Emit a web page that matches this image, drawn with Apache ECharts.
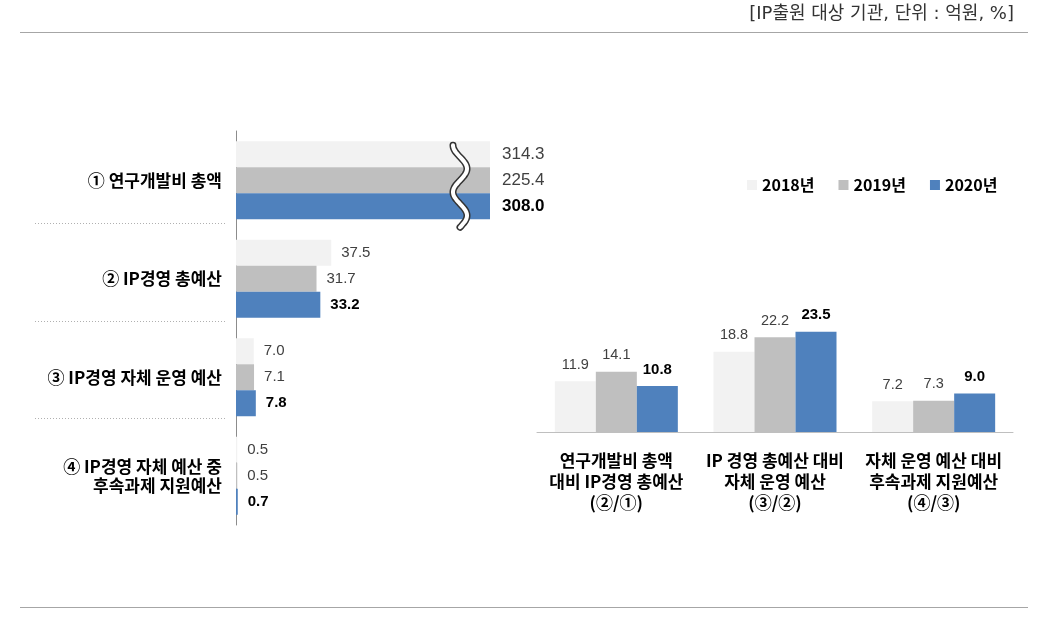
<!DOCTYPE html>
<html>
<head>
<meta charset="utf-8">
<script src="https://cdn.jsdelivr.net/npm/echarts@6/dist/echarts.min.js"></script>
<style>
html,body{margin:0;padding:0;background:#fff;}
#c{width:1045px;height:628px;}
</style>
</head>
<body>
<div id="c"></div>
<script>
// ---- data ----
const seriesNames = ['2018년', '2019년', '2020년'];
const leftCategories = ['① 연구개발비 총액', '② IP경영 총예산', '③ IP경영 자체 운영 예산', '④ IP경영 자체 예산 중\n후속과제 지원예산'];
const left2018 = [314.3, 37.5, 7.0, 0.5];
const left2019 = [225.4, 31.7, 7.1, 0.5];
const left2020 = [308.0, 33.2, 7.8, 0.7];
const rightCategories = ['연구개발비 총액\n대비 IP경영 총예산\n(②/①)', 'IP 경영 총예산 대비\n자체 운영 예산\n(③/②)', '자체 운영 예산 대비\n후속과제 지원예산\n(④/③)'];
const right2018 = [11.9, 18.8, 7.2];
const right2019 = [14.1, 22.2, 7.3];
const right2020 = [10.8, 23.5, 9.0];
const headerText = '[IP출원 대상 기관, 단위 : 억원, %]';

const colors = ['#f2f2f2', '#bfbfbf', '#4f81bd'];
const FONT = '"Noto Sans CJK KR", "Noto Sans", sans-serif';
const NUMFONT = '"Liberation Sans", Arial, sans-serif';
const HEADFONT = '"DejaVu Sans", "Noto Sans CJK KR", sans-serif';
const LEFT_MAX = 100; // broken axis: bars beyond this are cut

const leftData = [left2018, left2019, left2020];
const rightData = [right2018, right2019, right2020];

const chart = echarts.init(document.getElementById('c'));

const series = [];
leftData.forEach((vals, i) => {
  const bold = i === 2 ? 'bold' : 'normal';
  const col = i === 2 ? '#000' : '#404040';
  series.push({
    name: seriesNames[i], type: 'bar', xAxisIndex: 0, yAxisIndex: 0,
    data: vals.map(v => Math.min(v, LEFT_MAX)),
    barWidth: 26, barGap: '0%',
    itemStyle: { color: colors[i] },
    label: {
      show: true, position: 'right', distance: 10,
      formatter: p => '{' + (p.dataIndex === 0 ? 'b' : 's') + '|' + vals[p.dataIndex].toFixed(1) + '}',
      rich: {
        b: { fontSize: 17, fontFamily: NUMFONT, fontWeight: bold, color: col, padding: [0, 0, 0, 2] },
        s: { fontSize: 15, fontFamily: NUMFONT, fontWeight: bold, color: col }
      }
    },
    silent: true, animation: false
  });
});
rightData.forEach((vals, i) => {
  series.push({
    name: seriesNames[i], type: 'bar', xAxisIndex: 1, yAxisIndex: 1,
    data: vals,
    barWidth: 41, barGap: '0%',
    itemStyle: { color: colors[i] },
    label: {
      show: true, position: 'top', distance: 9,
      formatter: p => p.value.toFixed(1),
      fontSize: i === 2 ? 15 : 14.5, fontFamily: NUMFONT,
      fontWeight: i === 2 ? 'bold' : 'normal',
      color: i === 2 ? '#000' : '#404040'
    },
    silent: true, animation: false
  });
});

chart.setOption({
  animation: false,
  textStyle: { fontFamily: FONT },
  legend: {
    data: seriesNames,
    left: 742, top: 172,
    icon: 'rect', itemWidth: 10, itemHeight: 10, itemGap: 24,
    textStyle: { fontSize: 16, fontWeight: 'bold', color: '#000', fontFamily: FONT }
  },
  grid: [
    { left: 236, top: 131, width: 254, height: 394 },
    { left: 537, top: 304, width: 476, height: 128 }
  ],
  xAxis: [
    { gridIndex: 0, type: 'value', min: 0, max: LEFT_MAX, show: false },
    { gridIndex: 1, type: 'category', data: rightCategories,
      axisLine: { lineStyle: { color: '#bfbfbf', width: 1 } },
      axisTick: { show: false },
      axisLabel: { fontSize: 17, fontWeight: 'bold', color: '#000', fontFamily: FONT, lineHeight: 21, margin: 18, interval: 0 } }
  ],
  yAxis: [
    { gridIndex: 0, type: 'category', data: leftCategories, inverse: true,
      axisLine: { lineStyle: { color: '#8c8c8c', width: 1 } },
      axisTick: { show: false },
      axisLabel: { fontSize: 17, fontWeight: 'bold', color: '#000', fontFamily: FONT, lineHeight: 19, margin: 14, align: 'right' } },
    { gridIndex: 1, type: 'value', min: 0, max: 30, show: false }
  ],
  series: series
});

// decorations: header, rules, category separators, break symbol
const p = chart.convertToPixel({ xAxisIndex: 0, yAxisIndex: 0 }, [LEFT_MAX, 0]);
const wx = p[0] - 30, wy = p[1] + 6;
const wavePts = [];
for (let k = 0; k <= 48; k++) {
  const t = k / 48;
  wavePts.push([-7 * Math.cos(Math.PI * 2 * 1.75 * t), -41 + 82 * t]);
}
const sepY = [223, 321, 418];
const graphics = [
  { type: 'text', x: 1014, y: 14, z: 100, style: { text: headerText, fontSize: 18, fontFamily: HEADFONT, fill: '#333', align: 'right', verticalAlign: 'middle' } },
  { type: 'line', z: 100, shape: { x1: 20, y1: 32.5, x2: 1028, y2: 32.5 }, style: { stroke: '#a6a6a6', lineWidth: 1 } },
  { type: 'line', z: 100, shape: { x1: 20, y1: 607.5, x2: 1028, y2: 607.5 }, style: { stroke: '#a6a6a6', lineWidth: 1 } },
  { type: 'group', x: wx, y: wy, z: 100, children: [
    { type: 'polyline', z: 100, shape: { points: wavePts, smooth: 0.3 }, style: { stroke: '#333', lineWidth: 7, fill: null, lineCap: 'round' } },
    { type: 'polyline', z: 101, shape: { points: wavePts, smooth: 0.3 }, style: { stroke: '#fff', lineWidth: 4, fill: null, lineCap: 'round' } }
  ] }
];
sepY.forEach(y => graphics.push({ type: 'line', z: 100, shape: { x1: 35, y1: y + 0.5, x2: 225, y2: y + 0.5 }, style: { stroke: '#b0b0b0', lineWidth: 1, lineDash: [1, 2] } }));
chart.setOption({ graphic: graphics });
</script>
</body>
</html>
